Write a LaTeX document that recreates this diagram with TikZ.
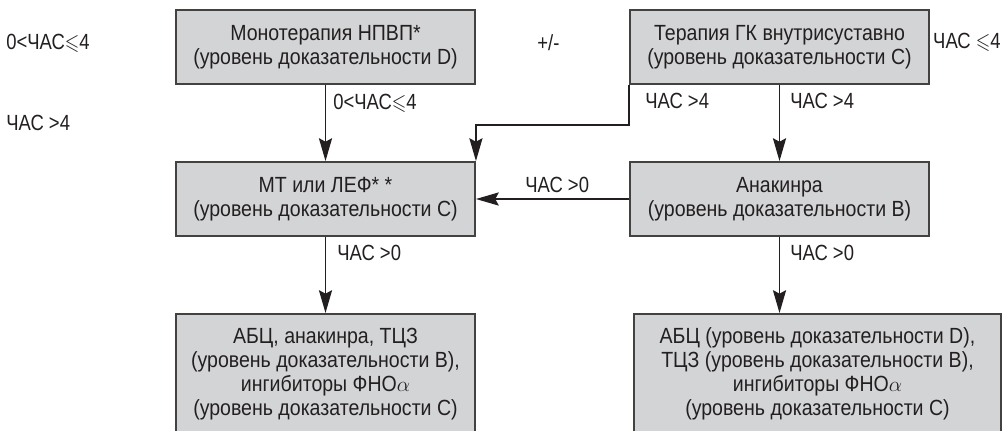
\documentclass[tikz,border=0pt]{standalone}
\usepackage{amsmath,amssymb}
\usepackage{fontspec}
\setmainfont{Liberation Sans}[FakeStretch=0.89]
\newfontfamily\lblfont{Liberation Sans}[FakeStretch=0.84]
\usetikzlibrary{arrows.meta}
\definecolor{boxgray}{RGB}{211,212,214}
\definecolor{ink}{RGB}{35,31,32}
\newcommand{\lsl}{\scalebox{0.85}[1]{$\leqslant$}}

\begin{document}
\begin{tikzpicture}[x=0.02cm,y=-0.02cm,
        box/.style={draw=ink!85,line width=1.1pt,fill=boxgray,text=ink,align=center,
            minimum width=5.98cm,minimum height=1.48cm,inner sep=0pt,
            font=\fontsize{12.5}{13.6}\selectfont},
        lbl/.style={text=ink,inner sep=0pt,anchor=west,font=\lblfont\fontsize{12.5}{13.6}\selectfont},
        arr/.style={draw=ink,line width=0.75pt,-{Stealth[length=13pt,width=7.5pt,inset=2pt]}}]
        \clip (0,0) rectangle (1003,430);

        \node[box] (mono) at (325.5,47) {Монотерапия НПВП*\\(уровень доказательности D)};
        \node[box] (gk) at (779.5,47) {Терапия ГК внутрисуставно\\(уровень доказательности C)};
        \node[box] (mt) at (325.5,199) {МТ или ЛЕФ* *\\(уровень доказательности C)};
        \node[box] (ana) at (779.5,199) {Анакинра\\(уровень доказательности B)};
        \node[box,anchor=north,minimum height=2.4cm] (bio1) at (325.5,313)
            {АБЦ, анакинра, ТЦЗ\\(уровень доказательности B),\\ингибиторы ФНО$\alpha$\\(уровень доказательности C)};
        \node[box,anchor=north,minimum width=7.34cm,minimum height=2.4cm] (bio2) at (817.5,313)
            {АБЦ (уровень доказательности D),\\ТЦЗ (уровень доказательности B),\\ингибиторы ФНО$\alpha$\\(уровень доказательности C)};

        \node[lbl] (cond1) at (6,43) {0<ЧАС\lsl4};
        \node[lbl] (cond2) at (6,123) {ЧАС >4};
        \node[lbl] (pm) at (537,43) {+/-};
        \node[lbl,anchor=east] (cond3) at (1001,42) {ЧАС \lsl4};

        \draw[arr] (mono) -- (mt);
        \draw[arr] (gk.south west) -- ++(0,40) -| (mt.north east);
        \draw[arr] (gk) -- (ana);
        \draw[arr] (ana) -- (mt);
        \draw[arr] (mt) -- (bio1);
        \draw[arr] (ana.south) -- (ana.south |- bio2.north);

        \node[lbl] (e1) at (333,103) {0<ЧАС\lsl4};
        \node[lbl] (e2) at (645,101) {ЧАС >4};
        \node[lbl] (e3) at (790,101) {ЧАС >4};
        \node[lbl] (e4) at (525,185) {ЧАС >0};
        \node[lbl] (e5) at (337,253) {ЧАС >0};
        \node[lbl] (e6) at (790,253) {ЧАС >0};
    \end{tikzpicture}
\end{document}
